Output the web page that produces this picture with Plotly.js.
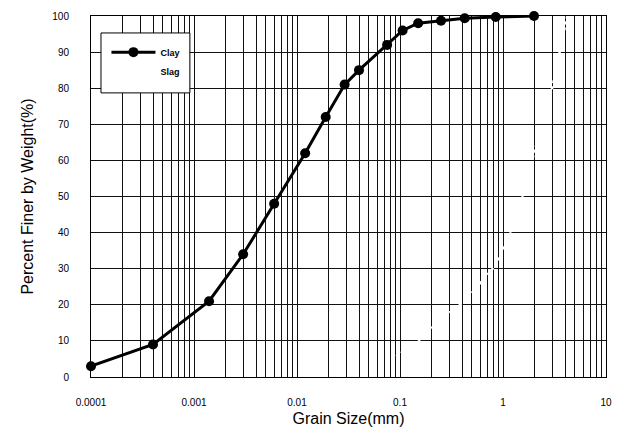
<!DOCTYPE html>
<html>
<head>
<meta charset="utf-8">
<script src="https://cdn.plot.ly/plotly-3.0.1.min.js"></script>
<style>
  html, body { margin: 0; padding: 0; background: #fff; }
  #chart { width: 620px; height: 434px; }
</style>
</head>
<body>
<div id="chart"></div>
<script>
// Clay gradation (grain size mm, percent finer)
const claySize = [0.0001, 0.0004, 0.0014, 0.003, 0.006, 0.012, 0.019, 0.029, 0.04, 0.075, 0.106, 0.15, 0.25, 0.425, 0.85, 2.0];
const clayPct  = [3, 9, 21, 34, 48, 62, 72, 81, 85, 92, 96, 98, 98.7, 99.4, 99.7, 100];

// Slag gradation (drawn in white in the original)
const slagSize = [0.075, 0.15, 0.25, 0.425, 0.85, 1.4, 2.0, 3.0, 4.2];
const slagPct  = [5, 10, 16, 21, 31, 45, 62, 80, 100];

// Axis ticks
const decadeVals   = [0.0001, 0.001, 0.01, 0.1, 1, 10];
const decadeLabels = ['0.0001', '0.001', '0.01', '0.1', '1', '10'];
const yTicks = [0, 10, 20, 30, 40, 50, 60, 70, 80, 90, 100];

// build log grid tick positions (1..9 per decade), labels only on decades
const gridVals = [];
const gridText = [];
decadeVals.forEach((d, i) => {
  const nMax = (i === decadeVals.length - 1) ? 1 : 9;
  for (let m = 1; m <= nMax; m++) {
    gridVals.push(d * m);
    gridText.push(m === 1 ? decadeLabels[i] : '');
  }
});

const traces = [
  {
    x: claySize, y: clayPct, name: 'Clay', type: 'scatter', mode: 'lines+markers',
    line: { color: '#000', width: 3 },
    marker: { color: '#000', size: 10, symbol: 'circle' },
    cliponaxis: false
  },
  {
    x: slagSize, y: slagPct, name: 'Slag', type: 'scatter', mode: 'lines',
    line: { color: '#fff', width: 2.5, dash: 'dot' },
    cliponaxis: true
  }
];

const layout = {
  width: 620, height: 434,
  margin: { l: 91, r: 14, t: 16, b: 57 },
  paper_bgcolor: '#fff', plot_bgcolor: '#fff',
  font: { family: 'Liberation Sans, Arial, sans-serif', color: '#000', size: 10 },
  showlegend: true,
  legend: {
    x: 0.03, y: 0.94, xanchor: 'left', yanchor: 'top',
    bgcolor: 'rgba(0,0,0,0)', borderwidth: 0,
    font: { size: 9, color: '#000', weight: 'bold' },
    itemwidth: 44,
    tracegroupgap: 0
  },
  shapes: [
    {
      type: 'rect', xref: 'paper', yref: 'paper',
      x0: 0.0194, x1: 0.192, y0: 0.787, y1: 0.953,
      fillcolor: '#fff', line: { color: '#000', width: 1 }, layer: 'above'
    }
  ],
  xaxis: {
    type: 'log', range: [-4, 1],
    tickmode: 'array', tickvals: gridVals, ticktext: gridText,
    showgrid: true, gridcolor: '#111', gridwidth: 1,
    ticks: '', ticklabelstandoff: 16,
    showline: true, linecolor: '#000', linewidth: 1, mirror: true,
    zeroline: false,
    tickfont: { size: 10, color: '#000' },
    title: { text: 'Grain Size(mm)', font: { size: 16, color: '#000' }, standoff: 5 }
  },
  yaxis: {
    range: [0, 100],
    tickmode: 'array', tickvals: yTicks,
    showgrid: true, gridcolor: '#111', gridwidth: 1,
    ticks: '', ticklabelstandoff: 19,
    showline: true, linecolor: '#000', linewidth: 1, mirror: true,
    zeroline: false,
    tickfont: { size: 10, color: '#000' },
    title: { text: 'Percent Finer by Weight(%)', font: { size: 16, color: '#000' }, standoff: 14 }
  }
};

Plotly.newPlot('chart', traces, layout, { displayModeBar: false, staticPlot: true });
</script>
</body>
</html>
